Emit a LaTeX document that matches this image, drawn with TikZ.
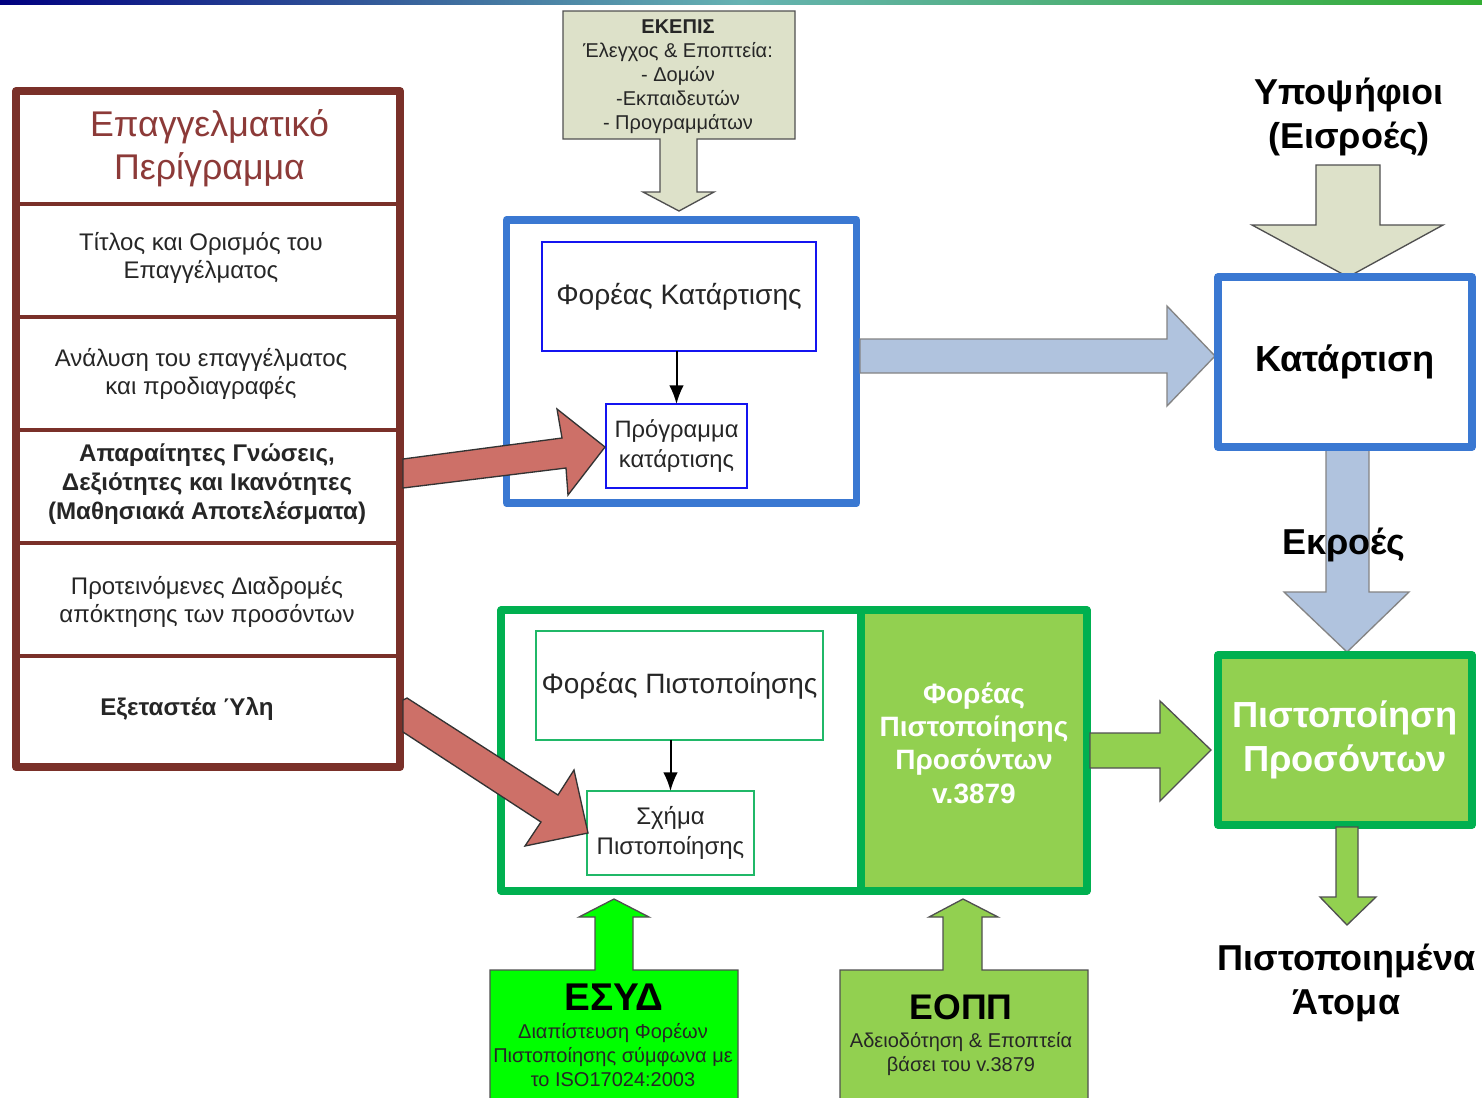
\documentclass[tikz,border=0pt]{standalone}
\usepackage{fontspec}
\setmainfont{Liberation Sans}
\usetikzlibrary{arrows.meta,calc}
\definecolor{brownframe}{HTML}{7A3029}
\definecolor{titlered}{HTML}{8C3A38}
\definecolor{blueframe}{HTML}{3A78D2}
\definecolor{pureblue}{HTML}{1414F0}
\definecolor{greenframe}{HTML}{00B050}
\definecolor{lightgreenline}{HTML}{20B868}
\definecolor{lime}{HTML}{92D050}
\definecolor{khaki}{HTML}{DDE1C9}
\definecolor{steel}{HTML}{B0C3DE}
\definecolor{salmon}{HTML}{CD7068}
\definecolor{edgegrey}{HTML}{505050}
\definecolor{txt}{HTML}{262626}
\newcommand{\fz}[2]{\fontsize{#1}{#2}\selectfont}
\tikzset{
  every node/.style={inner sep=0pt,outer sep=0pt,text=txt},
  lab/.style={align=center},
  frame/.style={draw=#1,line width=5.7pt,line join=round},
  thinbox/.style={draw=#1,line width=1.7pt,fill=white},
  block/.style={draw=edgegrey,line width=1pt,line join=miter},
  sep/.style={draw=brownframe,line width=3pt},
  conn/.style={draw=black,line width=1.5pt,-{Latex[length=14pt,width=11pt]}}
}
\begin{document}
\begin{tikzpicture}[x=0.75pt,y=-0.75pt]
\useasboundingbox (0,0) rectangle (1482,1097);
\fill[white] (0,0) rectangle (1482,1097);
% top strip
\shade[left color=blue!50!black,right color=green!60!black!80,middle color=teal!60] (0,0) rectangle (1482,4);

% block arrows behind
\draw[block,fill=khaki] (563,11) -- (795,11) -- (795,139) -- (697,139) -- (697,192) -- (714,192) -- (679,211) -- (643,192) -- (660,192) -- (660,139) -- (563,139) -- cycle;
\draw[block,fill=khaki] (1316,165) -- (1380,165) -- (1380,225) -- (1443,225) -- (1348,277) -- (1252,225) -- (1316,225) -- cycle;

% left panel
\draw[frame=brownframe,line width=6pt,fill=white] (16,91) rectangle (400,767);
\foreach \yy in {204,317,430,543,656}{\draw[sep] (16,\yy) -- (400,\yy);}
\node[lab,text=titlered,font=\fz{26.8}{32.5}] (title) at (209.5,148) {Επαγγελματικό\\Περίγραμμα};
\node[lab,font=\fz{18}{21}] (r1) at (201,258) {Τίτλος και Ορισμός του\\Επαγγέλματος};
\node[lab,font=\fz{18}{21}] (r2) at (201,374) {Ανάλυση του επαγγέλματος\\και προδιαγραφές};
\node[lab,font=\bfseries\fz{18.1}{21.5}] (r3) at (207,484) {Απαραίτητες Γνώσεις,\\Δεξιότητες και Ικανότητες\\(Μαθησιακά Αποτελέσματα)};
\node[lab,font=\fz{18}{21}] (r4) at (207,602) {Προτεινόμενες Διαδρομές\\απόκτησης των προσόντων};
\node[lab,font=\bfseries\fz{18.1}{21}] (r5) at (187,709) {Εξεταστέα Ύλη};

% blue frame
\node[frame=blueframe,minimum width=262.5pt,minimum height=212.5pt] (bf) at (681.5,361.5) {};
\node[thinbox=pureblue,minimum width=205pt,minimum height=81.5pt,font=\fz{21.1}{26}] (fk) at (679,296.5) {Φορέας Κατάρτισης};
\node[thinbox=pureblue,minimum width=105.5pt,minimum height=63pt,lab,font=\fz{17.8}{22}] (prog) at (676.5,446) {Πρόγραμμα\\κατάρτισης};
\draw[conn] (fk.south -| prog.north) -- (prog.north);

% green frame
\fill[lime] (861,610) rectangle (1087,891);
\node[frame=greenframe,minimum width=439.5pt,minimum height=210.5pt] (gf) at (794,750.5) {};
\draw[greenframe,line width=5.7pt] (861,610) -- (861,891);
\node[thinbox=lightgreenline,minimum width=215pt,minimum height=81.5pt,font=\fz{21}{26}] (fp) at (679.5,685.5) {Φορέας Πιστοποίησης};
\node[thinbox=lightgreenline,minimum width=125pt,minimum height=63pt,lab,font=\fz{18}{22}] (sx) at (670.5,833) {Σχήμα\\Πιστοποίησης};
\draw[conn] (fp.south -| sx.north) -- (sx.north);
\node[lab,text=white,font=\bfseries\fz{21}{25}] (fpp) at (974,743) {Φορέας\\Πιστοποίησης\\Προσόντων\\v.3879};

% red arrows
\draw[block,draw=black!80,fill=salmon] (403,459) -- (562,438) -- (557,409) -- (605,447) -- (568,495) -- (566,468) -- (403,488) -- cycle;
\draw[block,draw=black!80,fill=salmon] (403,700) -- (407,698) -- (558,795) -- (574,770) -- (588,833) -- (525,846) -- (541,822) -- (403,732) -- cycle;

% blue block arrows
\draw[block,draw=edgegrey!70,fill=steel] (860,339) -- (1167,339) -- (1167,306) -- (1215,356) -- (1167,406) -- (1167,373) -- (860,373) -- cycle;
\draw[block,draw=edgegrey!70,fill=steel] (1326,449) -- (1369,449) -- (1369,592) -- (1409,592) -- (1347,652) -- (1284,592) -- (1326,592) -- cycle;

% right boxes
\node[frame=blueframe,fill=white,minimum width=190.5pt,minimum height=127.5pt,font=\bfseries\fz{27.2}{32},text=black] (kat) at (1345,362) {Κατάρτιση};
\node[frame=greenframe,fill=lime,minimum width=190.5pt,minimum height=127.5pt,lab,font=\bfseries\fz{27.2}{32.5},text=white] (pp) at (1345,740) {Πιστοποίηση\\Προσόντων};
\draw[block,fill=lime] (1090,733) -- (1160,733) -- (1160,701) -- (1211,750) -- (1160,801) -- (1160,768) -- (1090,768) -- cycle;
\draw[block,fill=lime] (1336,827) -- (1358,827) -- (1358,897) -- (1376,897) -- (1347,925) -- (1320,897) -- (1336,897) -- cycle;

% bottom blocks
\draw[block,fill=green] (490,1100) -- (490,970) -- (595,970) -- (595,917) -- (579,917) -- (614,899) -- (649,917) -- (633,917) -- (633,970) -- (738,970) -- (738,1100);
\draw[block,fill=lime] (840,1100) -- (840,970) -- (943,970) -- (943,917) -- (929,917) -- (963,899) -- (998,917) -- (982,917) -- (982,970) -- (1088,970) -- (1088,1100);

% labels
\node[lab,font=\fz{15}{18}] (ek) at (678,76.5) {\textbf{ΕΚΕΠΙΣ}\\Έλεγχος \& Εποπτεία:\\- Δομών\\-Εκπαιδευτών\\- Προγραμμάτων};
\node[lab,font=\bfseries\fz{27}{32.5},text=black] (yp) at (1349,117) {Υποψήφιοι\\(Εισροές)};
\node[font=\bfseries\fz{27}{32},text=black] (ekr) at (1344,545) {Εκροές};
\node[lab,font=\bfseries\fz{27}{32.5},text=black] (pa) at (1346.5,983) {Πιστοποιημένα\\Άτομα};
\node[font=\bfseries\fz{29}{34},text=black] (es) at (614,997) {ΕΣΥΔ};
\node[lab,font=\fz{15}{18}] (esd) at (613,1055) {Διαπίστευση Φορέων\\Πιστοποίησης σύμφωνα με\\το ISO17024:2003};
\node[font=\bfseries\fz{26.7}{34},text=black] (eo) at (961,1007) {ΕΟΠΠ};
\node[lab,font=\fz{15}{18}] (eod) at (961,1054.5) {Αδειοδότηση \& Εποπτεία\\βάσει του v.3879};
\end{tikzpicture}
\end{document}
